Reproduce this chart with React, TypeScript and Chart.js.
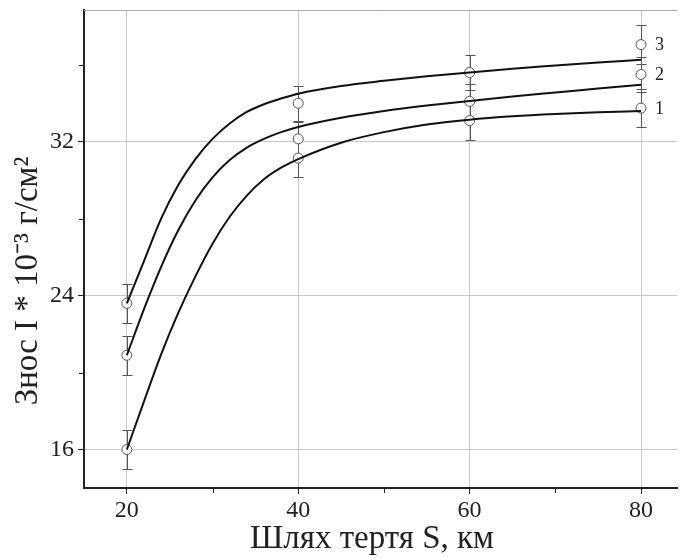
import React, { useEffect, useRef } from "react";
import { Chart, registerables } from "chart.js";

Chart.register(...registerables);

const FONT = '"Liberation Serif", "Times New Roman", serif';

const xTicks = [20, 40, 60, 80];
const xMinorTicks = [30, 50, 70];
const yTicks = [16, 24, 32];
const yMinorTicks = [20, 28, 36];

const xTitle = "Шлях тертя S, км";
const yTitle = "Знос I * 10⁻³ г/см²";
const seriesNames = ["1", "2", "3"];

// measured points
const measuredX = [20, 40, 60, 80];
const measured1 = [16.0, 31.15, 33.1, 33.75];
const measured2 = [20.9, 32.15, 34.1, 35.5];
const measured3 = [23.6, 34.0, 35.6, 37.05];
const error1 = [1.0, 1.0, 1.0, 1.0];
const error2 = [1.0, 0.9, 0.9, 0.9];
const error3 = [1.0, 0.9, 0.9, 1.0];

// fitted curves
const fitX = [20, 22, 24, 26, 28, 30, 32, 34, 36, 38, 40, 45, 50, 55, 60, 65, 70, 75, 80];
const fit1Y = [16.0, 18.5, 20.95, 23.1, 25.0, 26.7, 28.1, 29.2, 30.05, 30.65, 31.1, 31.95, 32.5, 32.9, 33.15, 33.32, 33.44, 33.53, 33.6];
const fit2Y = [20.9, 23.3, 25.5, 27.4, 28.95, 30.15, 31.05, 31.7, 32.15, 32.5, 32.77, 33.25, 33.6, 33.88, 34.12, 34.35, 34.56, 34.77, 34.96];
const fit3Y = [23.6, 25.8, 28.0, 29.75, 31.1, 32.15, 32.95, 33.55, 33.95, 34.25, 34.5, 34.9, 35.17, 35.4, 35.6, 35.8, 35.96, 36.12, 36.26];

const measuredSeries = [
  { values: measured1, errors: error1 },
  { values: measured2, errors: error2 },
  { values: measured3, errors: error3 },
];
const fitSeries = [fit1Y, fit2Y, fit3Y];

const decorPlugin = {
  id: "decor",
  beforeDatasetsDraw(chart: any) {
    const { ctx, chartArea, scales } = chart;
    const x = scales.x;
    const y = scales.y;
    ctx.save();
    // top border
    ctx.strokeStyle = "#aaaaaa";
    ctx.lineWidth = 1;
    ctx.beginPath();
    ctx.moveTo(chartArea.left, chartArea.top + 0.5);
    ctx.lineTo(chartArea.right, chartArea.top + 0.5);
    ctx.stroke();
    // minor ticks
    ctx.strokeStyle = "#222";
    ctx.lineWidth = 1;
    xMinorTicks.forEach((v) => {
      const px = Math.round(x.getPixelForValue(v)) + 0.5;
      ctx.beginPath();
      ctx.moveTo(px, chartArea.bottom);
      ctx.lineTo(px, chartArea.bottom + 5);
      ctx.stroke();
    });
    yMinorTicks.forEach((v) => {
      const py = Math.round(y.getPixelForValue(v)) + 0.5;
      ctx.beginPath();
      ctx.moveTo(chartArea.left, py);
      ctx.lineTo(chartArea.left - 5, py);
      ctx.stroke();
    });
    // error bars
    ctx.strokeStyle = "#555";
    ctx.lineWidth = 1;
    measuredSeries.forEach((s) => {
      measuredX.forEach((xv, i) => {
        const px = Math.round(x.getPixelForValue(xv)) + 0.5;
        const top = Math.round(y.getPixelForValue(s.values[i] + s.errors[i])) + 0.5;
        const bot = Math.round(y.getPixelForValue(s.values[i] - s.errors[i])) + 0.5;
        ctx.beginPath();
        ctx.moveTo(px, top);
        ctx.lineTo(px, bot);
        ctx.moveTo(px - 5, top);
        ctx.lineTo(px + 5, top);
        ctx.moveTo(px - 5, bot);
        ctx.lineTo(px + 5, bot);
        ctx.stroke();
      });
    });
    ctx.restore();
  },
  afterDraw(chart: any) {
    const { ctx, scales } = chart;
    const x = scales.x;
    const y = scales.y;
    ctx.save();
    // series labels
    ctx.fillStyle = "#222";
    ctx.font = `18px ${FONT}`;
    ctx.textAlign = "left";
    ctx.textBaseline = "middle";
    const last = measuredX.length - 1;
    measuredSeries.forEach((s, k) => {
      const px = x.getPixelForValue(measuredX[last]);
      const py = y.getPixelForValue(s.values[last]);
      ctx.fillText(seriesNames[k], px + 14, py + 1);
    });
    // x title
    ctx.font = `33px ${FONT}`;
    ctx.textAlign = "center";
    ctx.textBaseline = "middle";
    ctx.fillText(xTitle, 372, 539);
    // y title
    ctx.translate(28, 281);
    ctx.rotate(-Math.PI / 2);
    ctx.fillText(yTitle, 0, 0);
    ctx.restore();
  },
};

export default function App() {
  const ref = useRef<HTMLCanvasElement | null>(null);
  useEffect(() => {
    if (!ref.current) return;
    const datasets: any[] = [];
    fitSeries.forEach((ys, k) => {
      datasets.push({
        label: "fit " + seriesNames[k],
        data: fitX.map((xv, i) => ({ x: xv, y: ys[i] })),
        showLine: true,
        borderColor: "#111",
        borderWidth: 2,
        pointRadius: 0,
        cubicInterpolationMode: "monotone",
        fill: false,
        order: 0,
      });
    });
    measuredSeries.forEach((s, k) => {
      datasets.push({
        label: "data " + seriesNames[k],
        data: measuredX.map((xv, i) => ({ x: xv, y: s.values[i] })),
        showLine: false,
        pointStyle: "circle",
        pointRadius: 5,
        pointBorderColor: "#555",
        pointBackgroundColor: "#fff",
        pointBorderWidth: 1,
        order: 1,
      });
    });
    const chart = new Chart(ref.current, {
      type: "scatter",
      data: { datasets },
      options: {
        animation: false,
        responsive: false,
        layout: { padding: { top: 10, right: 0, left: 0, bottom: 0 } },
        plugins: { legend: { display: false }, tooltip: { enabled: false } },
        scales: {
          x: {
            type: "linear",
            min: 15,
            max: 84.2,
            afterBuildTicks: (s: any) => {
              s.ticks = xTicks.map((v) => ({ value: v }));
            },
            afterFit: (s: any) => {
              s.height = 70;
              s.paddingLeft = 0;
              s.paddingRight = 0;
            },
            grid: { color: "#c8c8c8", lineWidth: 1, tickLength: 6, tickColor: "#222", drawTicks: true },
            border: { color: "#222", width: 2 },
            ticks: { font: { family: FONT, size: 24 }, color: "#222", padding: 2 },
          },
          y: {
            type: "linear",
            min: 14,
            max: 38.85,
            afterBuildTicks: (s: any) => {
              s.ticks = yTicks.map((v) => ({ value: v }));
            },
            afterFit: (s: any) => {
              s.width = 84;
              s.paddingTop = 0;
              s.paddingBottom = 0;
            },
            grid: { color: "#c8c8c8", lineWidth: 1, tickLength: 6, tickColor: "#222", drawTicks: true },
            border: { color: "#222", width: 2 },
            ticks: { font: { family: FONT, size: 24 }, color: "#222", padding: 4 },
          },
        },
      },
      plugins: [decorPlugin],
    } as any);
    return () => chart.destroy();
  }, []);
  return (
    <div style={{ position: "absolute", left: 0, top: 0, width: 683, height: 558, background: "#fff" }}>
      <canvas ref={ref} width={683} height={558} style={{ display: "block" }} />
    </div>
  );
}
